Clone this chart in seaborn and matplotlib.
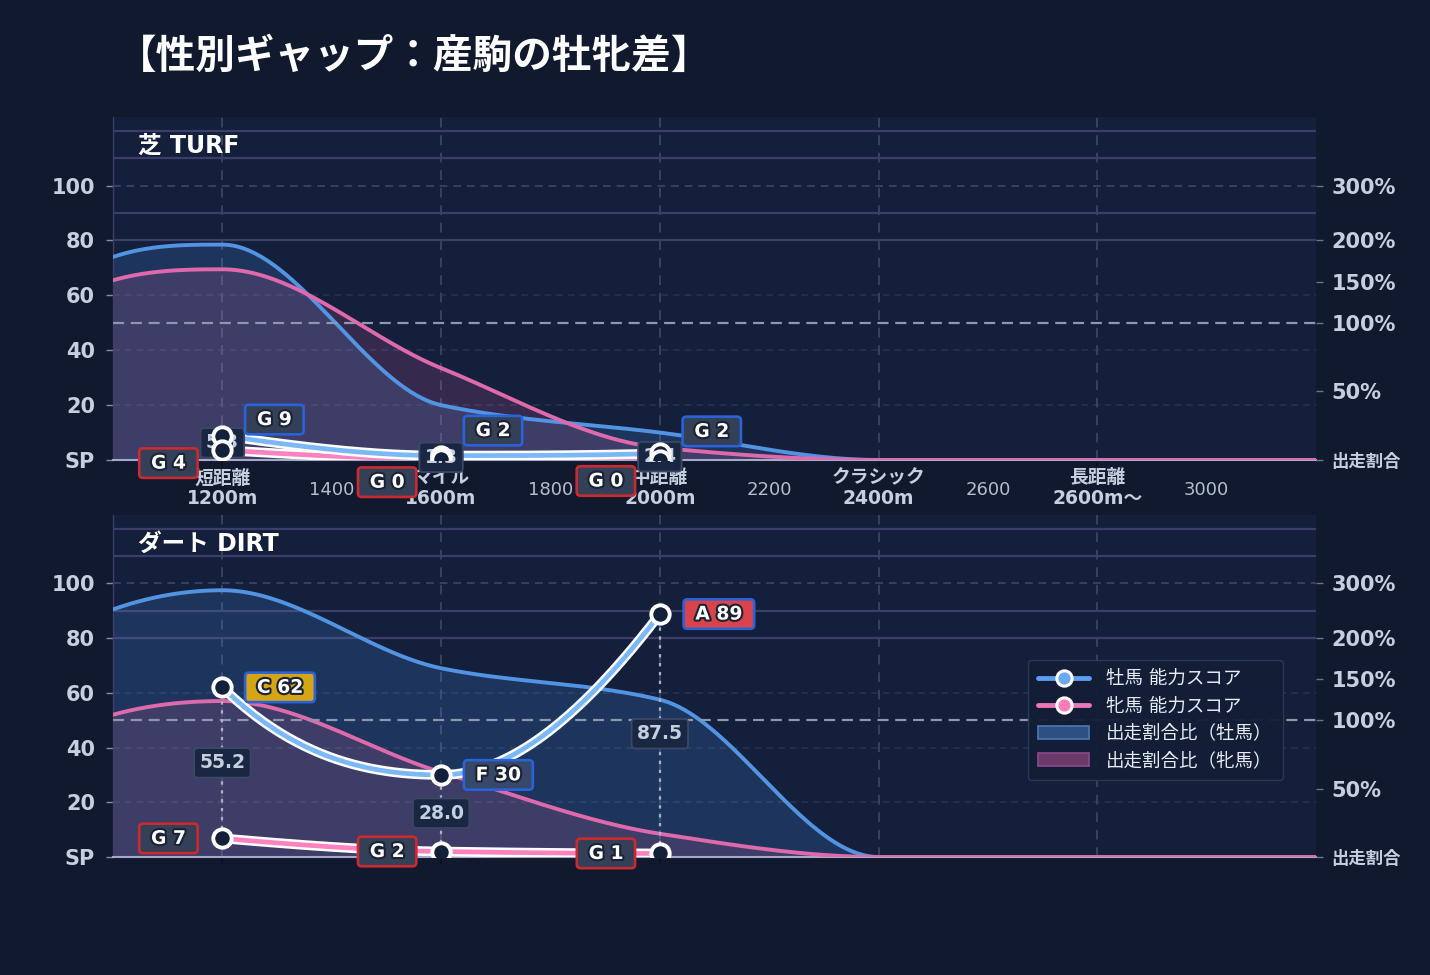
import numpy as np
import matplotlib
matplotlib.use("Agg")
import matplotlib.pyplot as plt
import matplotlib.patheffects as pe
from matplotlib.lines import Line2D
from matplotlib.patches import Patch
import seaborn as sns

# --- data ---
share_dist = [1000, 1200, 1600, 2000, 2400, 2800, 3200]
turf_male_share = [74.0, 78.5, 20.0, 10.0, 0.0, 0.0, 0.0]
turf_female_share = [65.5, 69.5, 33.5, 4.5, 0.0, 0.0, 0.0]
dirt_male_share = [90.5, 97.5, 69.0, 57.5, 0.0, 0.0, 0.0]
dirt_female_share = [52.0, 57.0, 31.0, 8.5, 0.0, 0.0, 0.0]

score_dist = [1200, 1600, 2000]
turf_male_score = [8.9, 1.6, 2.4]
turf_female_score = [3.6, 0.3, 0.0]
turf_male_grade = ["G", "G", "G"]
turf_female_grade = ["G", "G", "G"]
dirt_male_score = [62.0, 30.0, 88.8]
dirt_female_score = [6.8, 2.0, 1.3]
dirt_male_grade = ["C", "F", "A"]
dirt_female_grade = ["G", "G", "G"]

major_dist = [1200, 1600, 2000, 2400, 2800]
major_labels = ["短距離\n1200m", "マイル\n1600m", "中距離\n2000m",
                "クラシック\n2400m", "長距離\n2600m〜"]
minor_dist = [1400, 1800, 2200, 2600, 3000]
left_ticks = [0, 20, 40, 60, 80, 100]
left_labels = ["SP", "20", "40", "60", "80", "100"]
ratio_ticks = [0, 25, 50, 65, 80, 100]
ratio_labels = ["出走割合", "50%", "100%", "150%", "200%", "300%"]

# --- styling ---
FIG_BG = "#10192e"
AX_BG = "#131f3b"
BLUE_LINE = "#5294e2"
PINK_LINE = "#de6aab"
MALE_SCORE = "#7ab8f8"
FEMALE_SCORE = "#ff82c0"
TICK_TXT = "#c5cfdf"
GRADE_FACE = {"G": "#334058", "F": "#36496a", "C": "#d4a514", "A": "#d9434b"}

# label offsets (pixels) for the grade boxes
turf_male_off = [(28, 16), (28, 25), (28, 22)]
turf_female_off = [(-30, -13), (-30, -23), (-30, -21)]
dirt_male_off = [(28, 0), (28, 0), (29, 0)]
dirt_female_off = [(-30, 0), (-30, 0), (-30, 0)]

sns.set_theme(style="dark", rc={"figure.facecolor": FIG_BG, "axes.facecolor": AX_BG})
plt.rcParams["font.family"] = ["DejaVu Sans", "Noto Sans CJK JP"]


def pchip(x, y, n=80):
    # shape-preserving cubic used only to draw a smooth path through the points
    x = np.asarray(x, float)
    y = np.asarray(y, float)
    h = np.diff(x)
    d = np.diff(y) / h
    m = np.zeros_like(y)
    for k in range(1, len(x) - 1):
        if d[k - 1] * d[k] > 0:
            w1 = 2 * h[k] + h[k - 1]
            w2 = h[k] + 2 * h[k - 1]
            m[k] = (w1 + w2) / (w1 / d[k - 1] + w2 / d[k])

    def end(h0, h1, d0, d1):
        mm = ((2 * h0 + h1) * d0 - h0 * d1) / (h0 + h1)
        if np.sign(mm) != np.sign(d0):
            return 0.0
        if np.sign(d0) != np.sign(d1) and abs(mm) > abs(3 * d0):
            return 3 * d0
        return mm

    m[0] = end(h[0], h[1], d[0], d[1])
    m[-1] = end(h[-1], h[-2], d[-1], d[-2])
    xs, ys = [], []
    for k in range(len(h)):
        t = np.linspace(0, 1, n, endpoint=(k == len(h) - 1))
        h00 = 2 * t**3 - 3 * t**2 + 1
        h10 = t**3 - 2 * t**2 + t
        h01 = -2 * t**3 + 3 * t**2
        h11 = t**3 - t**2
        xs.append(x[k] + t * h[k])
        ys.append(h00 * y[k] + h10 * h[k] * m[k] + h01 * y[k + 1] + h11 * h[k] * m[k + 1])
    return np.concatenate(xs), np.concatenate(ys)


fig = plt.figure(figsize=(14.3, 9.75), dpi=100)
fig.patch.set_facecolor(FIG_BG)
ax_top = fig.add_axes([113 / 1430, 1 - 460 / 975, 1203 / 1430, 343 / 975])
ax_bot = fig.add_axes([113 / 1430, 1 - 857 / 975, 1203 / 1430, 342 / 975])


def draw_panel(ax, title, male_share, female_share, male_score, female_score,
               male_grade, female_grade, male_off, female_off, show_xlabels):
    ax.set_facecolor(AX_BG)
    ax.set_xlim(1000, 3200)
    ax.set_ylim(0, 125)

    # reference lines
    for v in [80, 90, 110, 120]:
        ax.axhline(v, color="#3c3d68", lw=1.6, zorder=1)
    ax.axhline(100, color="#3c3d68", lw=1.4, ls=(0, (4, 3)), zorder=1)
    for v in [20, 40, 60]:
        ax.axhline(v, color="#28324f", lw=1.2, ls=(0, (4, 3)), zorder=1)
    for d in major_dist:
        ax.axvline(d, color="#36435f", lw=1.4, ls=(0, (5, 4)), zorder=1)
    ax.axhline(50, color="#8e97ab", lw=1.6, ls=(0, (5, 3)), zorder=3.5)

    # share areas
    xm, ym = pchip(share_dist, male_share)
    xf, yf = pchip(share_dist, female_share)
    ax.fill_between(xm, ym, 0, color="#4a90e2", alpha=0.2, lw=0, zorder=2)
    ax.fill_between(xf, yf, 0, color="#e066a6", alpha=0.17, lw=0, zorder=2.1)
    sns.lineplot(x=xm, y=ym, ax=ax, color=BLUE_LINE, lw=2.8, estimator=None, sort=False, zorder=3)
    sns.lineplot(x=xf, y=yf, ax=ax, color=PINK_LINE, lw=2.8, estimator=None, sort=False, zorder=3.1)

    # score lines
    white = [pe.Stroke(linewidth=7, foreground="white"), pe.Normal()]
    sx, sy = pchip(score_dist, male_score)
    sns.lineplot(x=sx, y=sy, ax=ax, color=MALE_SCORE, lw=3.4, estimator=None, sort=False,
                 zorder=4.2, path_effects=white)
    sx, sy = pchip(score_dist, female_score)
    sns.lineplot(x=sx, y=sy, ax=ax, color=FEMALE_SCORE, lw=3.4, estimator=None, sort=False,
                 zorder=4.1, path_effects=white)

    # gap connectors + gap boxes
    for d, m, f in zip(score_dist, male_score, female_score):
        ax.vlines(d, f, m, color="#aab3c5", lw=1.6, ls=(0, (1.5, 2.5)), zorder=4.5)
        ax.text(d, (m + f) / 2, f"{m - f:.1f}", ha="center", va="center", fontsize=13.5,
                fontweight="bold", color=TICK_TXT, zorder=5,
                bbox=dict(boxstyle="round,pad=0.28,rounding_size=0.2", fc="#1a2743",
                          ec="#3a4863", lw=1.3))

    # markers
    for scores in (male_score, female_score):
        sns.scatterplot(x=score_dist, y=scores, ax=ax, s=175, color="#13203b",
                        edgecolor="white", linewidth=2.8, zorder=6, legend=False)

    # grade boxes
    stroke = [pe.withStroke(linewidth=3, foreground="#1b2233")]
    for d, sc, g, off in zip(score_dist, male_score, male_grade, male_off):
        ax.annotate(f" {g} {round(sc)} ", xy=(d, sc), xytext=off, textcoords="offset pixels",
                    ha="left", va="center", fontsize=13.5, fontweight="bold", color="white",
                    path_effects=stroke, zorder=7, annotation_clip=False,
                    bbox=dict(boxstyle="round,pad=0.28,rounding_size=0.2",
                              fc=GRADE_FACE[g], ec="#2a62d8", lw=1.9))
    for d, sc, g, off in zip(score_dist, female_score, female_grade, female_off):
        ax.annotate(f" {g} {round(sc)} ", xy=(d, sc), xytext=off, textcoords="offset pixels",
                    ha="right", va="center", fontsize=13.5, fontweight="bold", color="white",
                    path_effects=stroke, zorder=7, annotation_clip=False,
                    bbox=dict(boxstyle="round,pad=0.28,rounding_size=0.2",
                              fc=GRADE_FACE[g], ec="#cc2a30", lw=1.9))

    # panel title
    ax.text(0.021, 0.915, title, transform=ax.transAxes, ha="left", va="center",
            fontsize=17, fontweight="bold", color="white", zorder=8)

    # axes / ticks
    ax.set_yticks(left_ticks)
    ax.set_yticklabels(left_labels)
    ax.tick_params(axis="y", left=True, length=5, width=1, color="#8090a8", pad=8,
                   labelsize=15, labelcolor=TICK_TXT)
    for lbl in ax.get_yticklabels():
        lbl.set_fontweight("bold")

    if show_xlabels:
        ax.set_xticks(major_dist)
        ax.set_xticklabels(major_labels, fontsize=13.5, fontweight="bold", color=TICK_TXT,
                           linespacing=1.1)
        ax.set_xticks(minor_dist, minor=True)
        ax.set_xticklabels([str(d) for d in minor_dist], minor=True, fontsize=13,
                           color="#b4bed0")
        ax.tick_params(axis="x", which="major", bottom=True, length=4, color="#0b1020", pad=2)
        ax.tick_params(axis="x", which="minor", bottom=False, length=0, pad=15)
    else:
        ax.set_xticks(score_dist)
        ax.set_xticklabels([])
        ax.tick_params(axis="x", bottom=True, length=5, width=1.2, color="#0b1020")
    ax.set_xlabel("")
    ax.set_ylabel("")
    ax.grid(False)

    for s in ("top", "right"):
        ax.spines[s].set_visible(False)
    ax.spines["left"].set_color("#3d3f6a")
    ax.spines["left"].set_linewidth(1.0)
    ax.spines["bottom"].set_color("#a8a8c8")
    ax.spines["bottom"].set_linewidth(1.5)

    # ratio axis on the right
    ax2 = ax.twinx()
    ax2.set_ylim(0, 125)
    ax2.set_yticks(ratio_ticks)
    ax2.set_yticklabels(ratio_labels)
    ax2.tick_params(axis="y", right=True, length=5, width=1, color="#6a7488", pad=6,
                    labelsize=15, labelcolor=TICK_TXT)
    for lbl in ax2.get_yticklabels():
        lbl.set_fontweight("bold")
    ax2.get_yticklabels()[0].set_fontsize(12.5)
    ax2.grid(False)
    for s in ax2.spines.values():
        s.set_visible(False)
    return ax2


draw_panel(ax_top, "芝 TURF", turf_male_share, turf_female_share, turf_male_score,
           turf_female_score, turf_male_grade, turf_female_grade, turf_male_off,
           turf_female_off, True)
ax_bot2 = draw_panel(ax_bot, "ダート DIRT", dirt_male_share, dirt_female_share, dirt_male_score,
                     dirt_female_score, dirt_male_grade, dirt_female_grade, dirt_male_off,
                     dirt_female_off, False)

# legend
handles = [
    Line2D([0], [0], color="#5a9ef0", lw=3.5, marker="o", ms=11, mfc="#6aaaf5",
           mec="white", mew=2.2),
    Line2D([0], [0], color="#e878b4", lw=3.5, marker="o", ms=11, mfc="#ff7eb9",
           mec="white", mew=2.2),
    Patch(facecolor="#2d5080", edgecolor="#4a78b8", lw=1.2),
    Patch(facecolor="#6a3a6a", edgecolor="#8a4a8a", lw=1.2),
]
labels = ["牡馬 能力スコア", "牝馬 能力スコア", "出走割合比（牡馬）", "出走割合比（牝馬）"]
leg = ax_bot2.legend(handles, labels, loc="upper right", bbox_to_anchor=(0.98, 0.603),
                     frameon=True, facecolor="#131d36", edgecolor="#2e3a55", framealpha=0.95,
                     fontsize=13.3, labelcolor="#e6ebf5", handlelength=2.8, borderpad=0.55,
                     labelspacing=0.5, handletextpad=0.9)
leg.set_zorder(10)

fig.text(0.082, 0.942, "【性別ギャップ：産駒の牡牝差】", ha="left", va="center",
         fontsize=28.5, fontweight="bold", color="white")

fig.savefig("out.png", dpi=100, facecolor=FIG_BG)
